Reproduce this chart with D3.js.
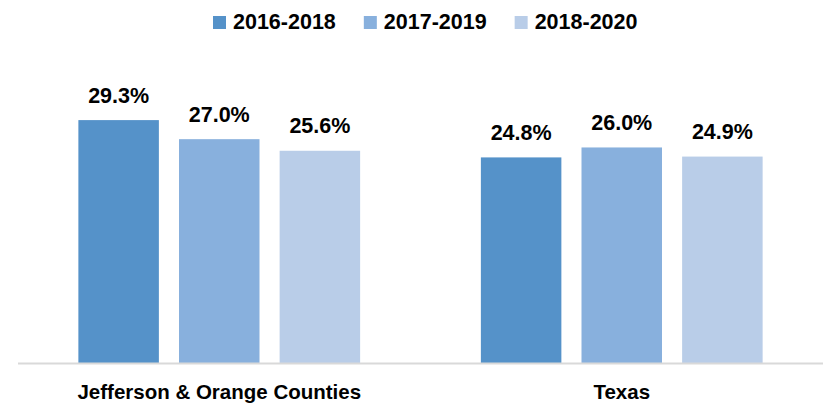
<!DOCTYPE html>
<html>
<head>
<meta charset="utf-8">
<script src="https://cdn.jsdelivr.net/npm/d3@7"></script>
<style>
  html, body { margin: 0; padding: 0; background: #ffffff; }
  svg { display: block; }
  text { font-family: "Liberation Sans", Arial, sans-serif; font-weight: bold; fill: #000; }
</style>
</head>
<body>
<svg id="chart" width="823" height="404"></svg>
<script>
// Regions compared and the three rolling periods shown for each
const categories = ["Jefferson & Orange Counties", "Texas"];
const periods = ["2016-2018", "2017-2019", "2018-2020"];
const colors = ["#5592c9", "#88b0dd", "#b9cde8"];

// Percent values per period, one array per period (Jefferson & Orange, Texas)
const values2016_2018 = [29.3, 24.8];
const values2017_2019 = [27.0, 26.0];
const values2018_2020 = [25.6, 24.9];
const seriesValues = [values2016_2018, values2017_2019, values2018_2020];

const W = 823, H = 404;
const svg = d3.select("#chart");

const baseline = 363;
const y = d3.scaleLinear().domain([0, 35]).range([baseline, baseline - 35 * 8.29]);

const x0 = d3.scaleBand()
  .domain(categories)
  .range([18, W])
  .paddingInner(0.3)
  .paddingOuter(0.15);

const x1 = d3.scaleBand()
  .domain(periods)
  .range([0, x0.bandwidth()])
  .paddingInner(0.2)
  .paddingOuter(0);

const color = d3.scaleOrdinal().domain(periods).range(colors);

const rows = [];
categories.forEach((c, ci) => {
  periods.forEach((p, pi) => {
    rows.push({ category: c, period: p, value: seriesValues[pi][ci] });
  });
});

// Bars
const groups = svg.append("g").selectAll("g")
  .data(categories)
  .join("g")
  .attr("transform", d => `translate(${x0(d)},0)`);

groups.selectAll("rect")
  .data(c => rows.filter(r => r.category === c))
  .join("rect")
  .attr("x", d => x1(d.period))
  .attr("y", d => y(d.value))
  .attr("width", x1.bandwidth())
  .attr("height", d => y(0) - y(d.value))
  .attr("fill", d => color(d.period));

// Value labels above bars
groups.selectAll("text.value")
  .data(c => rows.filter(r => r.category === c))
  .join("text")
  .attr("class", "value")
  .attr("x", d => x1(d.period) + x1.bandwidth() / 2)
  .attr("y", d => y(d.value) - 17.5)
  .attr("text-anchor", "middle")
  .style("font-size", "21.5px")
  .text(d => d.value.toFixed(1) + "%");

// Category axis
const xAxis = d3.axisBottom(x0).tickSize(0).tickPadding(0);
const axisG = svg.append("g")
  .attr("transform", `translate(0,${baseline})`)
  .call(xAxis);
axisG.select(".domain")
  .attr("d", `M18,0.5H${W}`)
  .attr("stroke", "#d9d9d9")
  .attr("stroke-width", 2);
axisG.selectAll(".tick text")
  .attr("y", 35.5)
  .attr("dy", 0)
  .style("font-size", "20.5px")
  .style("font-family", "'Liberation Sans', Arial, sans-serif")
  .style("font-weight", "bold")
  .attr("fill", "#000");

// Legend
const legend = svg.append("g").attr("transform", "translate(213,0)");
let lx = 0;
periods.forEach(p => {
  const item = legend.append("g").attr("transform", `translate(${lx},0)`);
  item.append("rect")
    .attr("x", 0).attr("y", 16)
    .attr("width", 13).attr("height", 13)
    .attr("fill", color(p));
  const t = item.append("text")
    .attr("x", 20).attr("y", 29)
    .style("font-size", "21.5px")
    .text(p);
  lx += 20 + t.node().getComputedTextLength() + 28;
});
</script>
</body>
</html>
